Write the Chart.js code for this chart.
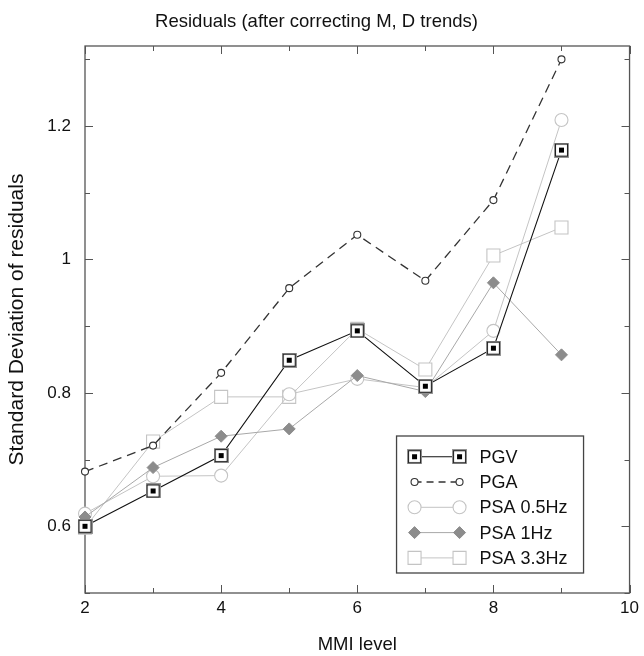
<!DOCTYPE html>
<html>
<head>
<meta charset="utf-8">
<style>
  html, body { margin: 0; padding: 0; background: #fff; }
  #wrap { width: 644px; height: 656px; }
</style>
<script src="https://cdn.jsdelivr.net/npm/chart.js@4.4.1/dist/chart.umd.min.js"></script>
</head>
<body>
<div id="wrap"><canvas id="c" width="644" height="656"></canvas></div>
<script>
// ---- data ----
const mmi = [2, 3, 4, 5, 6, 7, 8, 9];
const pgv = [0.600, 0.653, 0.706, 0.849, 0.893, 0.810, 0.867, 1.164];
const pga = [0.682, 0.721, 0.830, 0.957, 1.037, 0.968, 1.089, 1.300];
const psa05 = [0.619, 0.675, 0.676, 0.798, 0.821, 0.808, 0.893, 1.209];
const psa1 = [0.614, 0.688, 0.735, 0.746, 0.826, 0.802, 0.965, 0.857];
const psa33 = [0.598, 0.727, 0.794, 0.794, 0.896, 0.835, 1.006, 1.048];
const seriesNames = ['PGV', 'PGA', 'PSA 0.5Hz', 'PSA 1Hz', 'PSA 3.3Hz'];
const xTickValues = [2, 3, 4, 5, 6, 7, 8, 9, 10];
const xTickLabels = ['2', '', '4', '', '6', '', '8', '', '10'];
const yTickValues = [0.5, 0.6, 0.7, 0.8, 0.9, 1.0, 1.1, 1.2, 1.3];
const yTickLabels = ['', '0.6', '', '0.8', '', '1', '', '1.2', ''];
const chartTitle = 'Residuals (after correcting M, D trends)';
const xTitle = 'MMI level';
const yTitle = 'Standard Deviation of residuals';

// ---- marker image for PGV ----
function makePgvMarker() {
  const c = document.createElement('canvas');
  c.width = 15; c.height = 15;
  const g = c.getContext('2d');
  g.fillStyle = '#fff';
  g.fillRect(1, 1, 13, 13);
  g.strokeStyle = '#999';
  g.lineWidth = 1;
  g.strokeRect(0.5, 0.5, 14, 14);
  g.strokeStyle = '#222';
  g.lineWidth = 1.1;
  g.strokeRect(1.5, 1.5, 12, 12);
  g.fillStyle = '#000';
  g.fillRect(5, 5, 5, 5);
  return c;
}
const pgvMarker = makePgvMarker();

const pts = (arr) => mmi.map((x, i) => ({ x: x, y: arr[i] }));

Chart.defaults.font.family = '"Liberation Sans", Arial, Helvetica, sans-serif';
Chart.defaults.color = '#111';

const datasets = [
  {
    label: seriesNames[0], data: pts(pgv), order: 0,
    borderColor: '#111', borderWidth: 1.1,
    pointStyle: pgvMarker, pointRadius: 7,
    pointBackgroundColor: '#fff', pointBorderColor: '#111', pointBorderWidth: 1.4,
    clip: false
  },
  {
    label: seriesNames[1], data: pts(pga), order: 2,
    borderColor: '#333', borderWidth: 1.3, borderDash: [9, 6],
    pointStyle: 'circle', pointRadius: 3.5,
    pointBackgroundColor: '#fff', pointBorderColor: '#333', pointBorderWidth: 1.1,
    clip: false
  },
  {
    label: seriesNames[2], data: pts(psa05), order: 3,
    borderColor: '#c4c4c4', borderWidth: 1,
    pointStyle: 'circle', pointRadius: 6.5,
    pointBackgroundColor: '#fff', pointBorderColor: '#c4c4c4', pointBorderWidth: 1.1,
    clip: false
  },
  {
    label: seriesNames[3], data: pts(psa1), order: 1,
    borderColor: '#a8a8a8', borderWidth: 1,
    pointStyle: 'rectRot', pointRadius: 6,
    pointBackgroundColor: '#8c8c8c', pointBorderColor: '#8c8c8c', pointBorderWidth: 1,
    clip: false
  },
  {
    label: seriesNames[4], data: pts(psa33), order: 4,
    borderColor: '#c4c4c4', borderWidth: 1,
    pointStyle: 'rect', pointRadius: 9.2,
    pointBackgroundColor: '#fff', pointBorderColor: '#c4c4c4', pointBorderWidth: 1.1,
    clip: false
  }
];

function drawMarker(ctx, ds, x, y) {
  const st = ds.pointStyle;
  ctx.save();
  ctx.setLineDash([]);
  if (st instanceof HTMLCanvasElement) {
    ctx.drawImage(st, x - st.width / 2, y - st.height / 2);
    ctx.restore();
    return;
  }
  ctx.fillStyle = ds.pointBackgroundColor;
  ctx.strokeStyle = ds.pointBorderColor;
  ctx.lineWidth = ds.pointBorderWidth;
  const r = ds.pointRadius;
  ctx.beginPath();
  if (st === 'circle') {
    ctx.arc(x, y, r, 0, Math.PI * 2);
  } else if (st === 'rect') {
    const s = r * Math.SQRT1_2;
    ctx.rect(x - s, y - s, 2 * s, 2 * s);
  } else if (st === 'rectRot') {
    ctx.moveTo(x, y - r); ctx.lineTo(x + r, y); ctx.lineTo(x, y + r); ctx.lineTo(x - r, y); ctx.closePath();
  }
  ctx.fill();
  ctx.stroke();
  ctx.restore();
}

const framePlugin = {
  id: 'frame',
  beforeDatasetsDraw(chart) {
    const { ctx, chartArea: a, scales } = chart;
    ctx.save();
    ctx.strokeStyle = '#555';
    ctx.lineWidth = 1.3;
    ctx.strokeRect(a.left, a.top, a.right - a.left, a.bottom - a.top);
    ctx.lineWidth = 1;
    ctx.beginPath();
    xTickValues.forEach((v, i) => {
      const px = Math.round(scales.x.getPixelForValue(v)) + 0.5;
      const len = xTickLabels[i] !== '' ? 8 : 5;
      ctx.moveTo(px, a.bottom); ctx.lineTo(px, a.bottom - len);
      ctx.moveTo(px, a.top); ctx.lineTo(px, a.top + len);
    });
    yTickValues.forEach((v, i) => {
      const py = Math.round(scales.y.getPixelForValue(v)) + 0.5;
      const len = yTickLabels[i] !== '' ? 8 : 5;
      ctx.moveTo(a.left, py); ctx.lineTo(a.left + len, py);
      ctx.moveTo(a.right, py); ctx.lineTo(a.right - len, py);
    });
    ctx.stroke();
    ctx.restore();
  }
};

const legendPlugin = {
  id: 'boxLegend',
  afterDatasetsDraw(chart) {
    const { ctx, chartArea: a } = chart;
    const right = a.right - 46, bottom = a.bottom - 20;
    const left = right - 187, top = bottom - 137;
    ctx.save();
    ctx.fillStyle = '#fff';
    ctx.fillRect(left, top, right - left, bottom - top);
    ctx.strokeStyle = '#444';
    ctx.lineWidth = 1.3;
    ctx.strokeRect(left, top, right - left, bottom - top);
    const x1 = left + 18, x2 = left + 63, tx = left + 83;
    datasets.forEach((ds, i) => {
      const y = top + 20.7 + i * 25.3;
      ctx.save();
      ctx.strokeStyle = ds.borderColor;
      ctx.lineWidth = ds.borderWidth;
      ctx.setLineDash(ds.borderDash ? [7, 5] : []);
      ctx.beginPath();
      ctx.moveTo(x1, y); ctx.lineTo(x2, y);
      ctx.stroke();
      ctx.restore();
      drawMarker(ctx, ds, x1, y);
      drawMarker(ctx, ds, x2, y);
      ctx.fillStyle = '#111';
      ctx.font = '18px "Liberation Sans", Arial, sans-serif';
      ctx.textBaseline = 'middle';
      ctx.textAlign = 'left';
      ctx.fillText(ds.label, tx, y + 1);
    });
    ctx.restore();
  }
};

new Chart(document.getElementById('c'), {
  type: 'line',
  data: { datasets: datasets },
  options: {
    responsive: false,
    animation: false,
    layout: { padding: { left: 0, right: 11, top: 0, bottom: 0 } },
    plugins: {
      legend: { display: false },
      tooltip: { enabled: false },
      title: {
        display: true, text: chartTitle,
        font: { size: 18.5, weight: 'normal' }, color: '#111',
        padding: { top: 11, bottom: 12.8 }
      }
    },
    scales: {
      x: {
        type: 'linear', min: 2, max: 10,
        afterBuildTicks: (s) => { s.ticks = xTickValues.map(v => ({ value: v })); },
        afterFit: (s) => { s.height = 63; },
        grid: { display: false, drawTicks: false },
        border: { display: false },
        ticks: {
          autoSkip: false, maxRotation: 0, padding: 5,
          font: { size: 17 }, color: '#111',
          callback: (v, i) => xTickLabels[i]
        },
        title: { display: true, text: xTitle, font: { size: 18.5, lineHeight: 1 }, color: '#111', padding: { top: 0, bottom: 2 } }
      },
      y: {
        type: 'linear', min: 0.5, max: 1.32,
        afterBuildTicks: (s) => { s.ticks = yTickValues.map(v => ({ value: v })); },
        afterFit: (s) => { s.width = 85; },
        grid: { display: false, drawTicks: false },
        border: { display: false },
        ticks: {
          autoSkip: false, padding: 14,
          font: { size: 17 }, color: '#111',
          callback: (v, i) => yTickLabels[i]
        },
        title: { display: true, text: yTitle, font: { size: 21 }, color: '#111', padding: { top: 5, bottom: 0 } }
      }
    }
  },
  plugins: [framePlugin, legendPlugin]
});
</script>
</body>
</html>
